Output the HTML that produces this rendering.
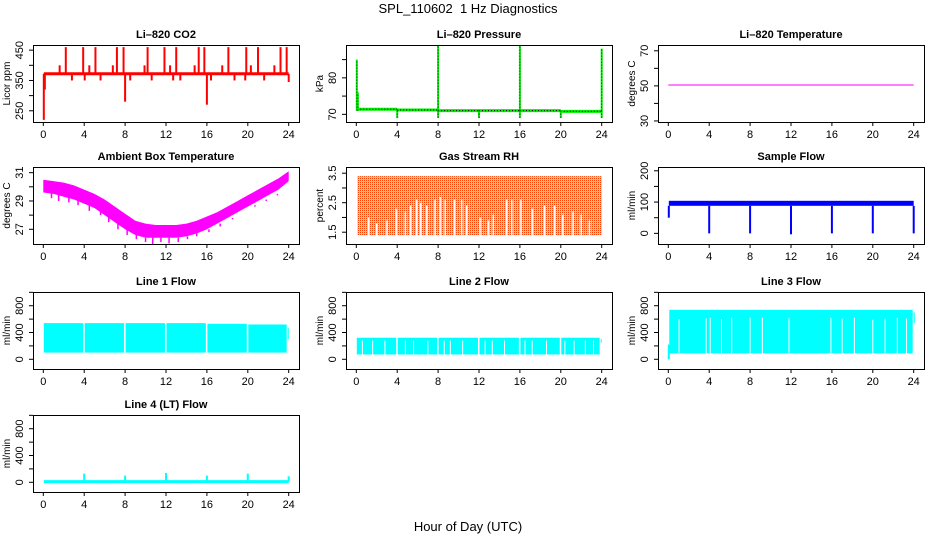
<!DOCTYPE html>
<html><head><meta charset="utf-8">
<style>
html,body{margin:0;padding:0;background:#fff;}
svg{display:block;font-family:"Liberation Sans",Arial,sans-serif;}
</style></head>
<body>
<svg id="c" width="936" height="540" viewBox="0 0 936 540" xmlns="http://www.w3.org/2000/svg">
<defs>
<pattern id="rhpat" width="2" height="2" patternUnits="userSpaceOnUse">
<rect width="2" height="2" fill="#ffdd00"/><rect width="1" height="1" fill="#ff4000"/>
</pattern>
</defs>
<text x="468" y="13" text-anchor="middle" font-size="13" style="white-space:pre">SPL_110602&#160; 1 Hz Diagnostics</text>
<text x="468" y="531" text-anchor="middle" font-size="13">Hour of Day (UTC)</text>
</svg>
<script>
// ---- data ----
const xTicks = [0,4,8,12,16,20,24];
const co2Base = 372;
const co2SpikeHours = [0.05,0.15,1.6,2.2,2.8,3.9,4.05,4.5,5.1,5.6,6.8,7.2,7.85,8.0,8.5,9.9,10.2,10.6,11.85,12.4,12.7,13.0,13.4,14.8,15.2,15.75,16.0,16.4,17.5,18.1,18.7,19.75,19.85,20.3,21.0,21.6,22.6,23.2,23.8,24.0];
const co2SpikeVals = [220,320,400,460,350,460,350,400,460,350,400,460,460,280,350,400,460,350,460,400,350,460,350,400,460,460,270,350,400,460,350,350,460,400,460,350,400,460,460,345];
const presLevelHours = [0.1,4,8,12,16,20,24];
const presLevels = [71.4,71.2,71.0,71.0,71.0,70.8];
const presSpikeHours = [0.05,0.15,4,8,8,12,16,16,20,24,24];
const presSpikeVals = [85,76,69,89,69,69,89,69,69,88,69];
const liTempHours = [0,24];
const liTempVals = [50.5,50.5];
const ambHours = [0,1,2,3,4,5,6,7,8,9,10,11,12,13,14,15,16,17,18,19,20,21,22,23,24];
const ambUpper = [30.5,30.4,30.3,30.1,29.8,29.5,29.1,28.6,28.1,27.6,27.4,27.3,27.3,27.3,27.4,27.6,27.9,28.2,28.6,29.0,29.4,29.8,30.2,30.6,31.1];
const ambLower = [29.6,29.5,29.3,29.1,28.8,28.5,28.0,27.5,27.0,26.6,26.4,26.4,26.4,26.4,26.5,26.7,27.0,27.4,27.8,28.2,28.6,29.0,29.4,29.8,30.4];
const ambDipHours = [0.8,1.5,2.5,3.4,4.5,5.6,6.4,7.3,8.2,9.1,10.0,10.7,11.5,12.3,13.2,14.1,15.0,16.2,17.3,18.5,19.6,20.7,21.8,22.9];
const ambDipVals = [29.2,29.0,28.9,28.7,28.3,28.0,27.5,27.0,26.6,26.3,26.1,25.9,26.1,26.0,26.1,26.3,26.5,26.8,27.2,27.7,28.2,28.7,29.1,29.5];
const rhTop = 3.4, rhBottom = 1.4;
const rhGapHours = [1.2,2.0,3.0,3.9,4.8,5.3,5.9,6.3,6.9,7.7,8.2,8.7,9.6,10.3,10.8,12.1,12.9,13.4,14.7,15.2,16.1,17.2,18.4,19.4,20.2,21.2,22.0,22.8];
const rhGapTops = [2.0,1.8,1.9,2.3,2.2,2.4,2.6,2.5,2.4,2.6,2.7,2.6,2.6,2.6,2.4,2.0,1.9,2.1,2.6,2.6,2.6,2.3,2.4,2.4,2.1,2.2,2.1,1.9];
const sfLow = 88, sfHigh = 104;
const sfDropHours = [0.05,4,8,12,16,20,24];
const sfDropVals = [50,0,0,-3,0,0,0];
const l1Starts = [0.05,4.05,8.05,12.05,16.05,20.05,23.9];
const l1Ends = [3.9,7.9,11.9,15.9,19.9,23.8,24.0];
const l1Lows = [100,100,100,100,100,100,300];
const l1Highs = [540,540,540,540,530,520,470];
const l2Starts = [0.05,4.05,8.05,12.05,16.05,20.05,23.9];
const l2Ends = [3.9,7.9,11.9,15.9,19.9,23.8,24.0];
const l2Lows = [72,72,72,72,72,72,250];
const l2Highs = [322,322,322,322,322,322,300];
const l2GapHours = [0.6,1.6,2.8,4.8,5.6,7.0,8.6,9.2,10.4,12.6,13.3,14.5,16.5,17.2,18.6,20.4,21.3,22.4,23.2];
const l3Starts = [0.1,24.0];
const l3Ends = [23.9,24.1];
const l3Lows = [88,540];
const l3Highs = [738,700];
const l3GapHours = [1.05,3.7,4.1,5.2,6.2,8.0,9.2,11.8,15.9,17.0,18.2,20.0,21.2,22.4,23.3];
const l3GapTops = [600,610,620,600,620,620,620,620,620,610,620,590,610,620,610];
const l4Base = 10;
const l4SpikeHours = [4,8,12,16,20,24];
const l4SpikeVals = [130,100,140,100,130,90];

// ---- layout ----
const NS = "http://www.w3.org/2000/svg";
const svg = document.getElementById('c');
const colLeft = [33,346,658], rowTop = [45,167,292,415], BW = 266, BH = 77;
function mk(tag, attrs, parent){
  const e = document.createElementNS(NS, tag);
  for (const k in attrs) e.setAttribute(k, attrs[k]);
  (parent||svg).appendChild(e);
  return e;
}
function panel(col,row,name,title,ylab,ymin,ymax,yticks,ylabels){
  const L = colLeft[col], T = rowTop[row];
  const g = mk('g',{});
  
  
  const p = {g, L, T,
    x: h => L + 10.3 + h*(BW-20.6)/24,
    y: v => T + BH - (v-ymin)/(ymax-ymin)*BH};
  const clipId = 'clip-'+name;
  const cp = mk('clipPath',{id:clipId}, g);
  mk('rect',{x:L,y:T,width:BW,height:BH},cp);
  p.plot = mk('g',{'clip-path':'url(#'+clipId+')'},g);
  
  
  const t = mk('text',{x:L+BW/2,y:T-7,'text-anchor':'middle','font-size':11,'font-weight':'bold'},g);
  t.textContent = title;
  
  
  const yl = mk('text',{x:L-23,y:T+BH/2,'text-anchor':'middle','font-size':10,transform:'rotate(-90 '+(L-23)+' '+(T+BH/2)+')'},g);
  yl.textContent = ylab;
  
  
  xTicks.forEach(h=>{
    mk('line',{x1:p.x(h),x2:p.x(h),y1:T+BH,y2:T+BH+4,stroke:'#000'},g);
    const tl = mk('text',{x:p.x(h),y:T+BH+16,'text-anchor':'middle','font-size':11},g);
    tl.textContent = h;
    
    
  });
  yticks.forEach(v=>{
    mk('line',{x1:L-4,x2:L,y1:p.y(v),y2:p.y(v),stroke:'#000'},g);
  });
  ylabels.forEach(v=>{
    const tx = L-10, ty = p.y(v);
    const tl = mk('text',{x:tx,y:ty,'text-anchor':'middle','font-size':11,transform:'rotate(-90 '+tx+' '+ty+')'},g);
    tl.textContent = v;
    
    
  });
  p.box = mk('rect',{x:L+0.5,y:T+0.5,width:BW,height:BH,fill:'none',stroke:'#000'},g);
  return p;
}
function vline(p,h,v1,v2,color,w){ return mk('line',{x1:p.x(h),x2:p.x(h),y1:p.y(v1),y2:p.y(v2),stroke:color,'stroke-width':w},p.plot); }
function hline(p,h1,h2,v,color,w){ return mk('line',{x1:p.x(h1),x2:p.x(h2),y1:p.y(v),y2:p.y(v),stroke:color,'stroke-width':w},p.plot); }
function band(p,h1,h2,lo,hi,fill){
  return mk('rect',{x:p.x(h1),y:p.y(hi),width:p.x(h2)-p.x(h1),height:p.y(lo)-p.y(hi),fill:fill},p.plot);
}

// CO2
let p = panel(0,0,'co2','Li\u2013820 CO2','Licor ppm',213,467,[250,300,350,400,450],[250,350,450]);
hline(p,0.05,24,co2Base,'#ff0000',3);
co2SpikeHours.forEach((h,i)=>{ vline(p,h,co2Base,co2SpikeVals[i],'#ff0000',2); });

// Pressure
p = panel(1,0,'pressure','Li\u2013820 Pressure','kPa',67.9,89,[70,75,80,85],[70,80]);
presLevels.forEach((v,i)=>{ hline(p,presLevelHours[i],presLevelHours[i+1],v,'#00ee00',3);
  hline(p,presLevelHours[i],presLevelHours[i+1],v,'#000',1).setAttribute('stroke-dasharray','1 2'); });
presSpikeHours.forEach((h,i)=>{ vline(p,h,71,presSpikeVals[i],'#00ee00',2);
  vline(p,h,71,presSpikeVals[i],'#000',0.8).setAttribute('stroke-dasharray','1 2'); });

// Li-820 temperature
p = panel(2,0,'li820-temperature','Li\u2013820 Temperature','degrees C',29.4,73.3,[30,40,50,60,70],[30,50,70]);
hline(p,liTempHours[0],liTempHours[1],liTempVals[0],'#ff00ff',1);

// Ambient
p = panel(0,1,'ambient-temperature','Ambient Box Temperature','degrees C',25.96,31.4,[27,28,29,30,31],[27,29,31]);
let pts = ambHours.map((h,i)=>p.x(h)+','+p.y(ambUpper[i]));
for (let i=ambHours.length-1;i>=0;i--) pts.push(p.x(ambHours[i])+','+p.y(ambLower[i]));
mk('polygon',{points:pts.join(' '),fill:'#ff00ff'},p.plot);
ambDipHours.forEach((h,i)=>{ const j=Math.floor(h); vline(p,h,ambLower[j],ambDipVals[i],'#ff00ff',1.5); });

// RH
p = panel(1,1,'gas-stream-rh','Gas Stream RH','percent',1.1,3.71,[1.5,2,2.5,3,3.5],[1.5,2.5,3.5]);
band(p,0.1,24,rhBottom,rhTop,'url(#rhpat)');
rhGapHours.forEach((h,i)=>{ vline(p,h,rhBottom-0.1,rhGapTops[i],'#fff',1.5); });

// Sample flow
p = panel(2,1,'sample-flow','Sample Flow','ml/min',-34,212,[0,50,100,150,200],[0,100,200]);
band(p,0.05,24,sfLow,sfHigh,'#0000ff');
sfDropHours.forEach((h,i)=>{ vline(p,h,sfLow,sfDropVals[i],'#0000ff',2); });

// Line flows
const fT=[0,200,400,600,800,1000], fL=[0,400,800];
p = panel(0,2,'line1-flow','Line 1 Flow','ml/min',-145,1005,fT,fL);
l1Starts.forEach((s,i)=>{ band(p,s,l1Ends[i],l1Lows[i],l1Highs[i],'#00ffff'); });

p = panel(1,2,'line2-flow','Line 2 Flow','ml/min',-145,1005,fT,fL);
l2Starts.forEach((s,i)=>{ band(p,s,l2Ends[i],l2Lows[i],l2Highs[i],'#00ffff'); });
l2GapHours.forEach(h=>{ vline(p,h,60,280,'#fff',1); });

p = panel(2,2,'line3-flow','Line 3 Flow','ml/min',-145,1005,fT,fL);
l3Starts.forEach((s,i)=>{ band(p,s,l3Ends[i],l3Lows[i],l3Highs[i],'#00ffff'); });
vline(p,0.05,0,220,'#00ffff',2);
l3GapHours.forEach((h,i)=>{ vline(p,h,88,l3GapTops[i],'#fff',1); });

p = panel(0,3,'line4-flow','Line 4 (LT) Flow','ml/min',-145,1005,fT,fL);
hline(p,0.05,24,l4Base,'#00ffff',3);
l4SpikeHours.forEach((h,i)=>{ vline(p,h,l4Base,l4SpikeVals[i],'#00ffff',2); });
</script>
</body></html>
